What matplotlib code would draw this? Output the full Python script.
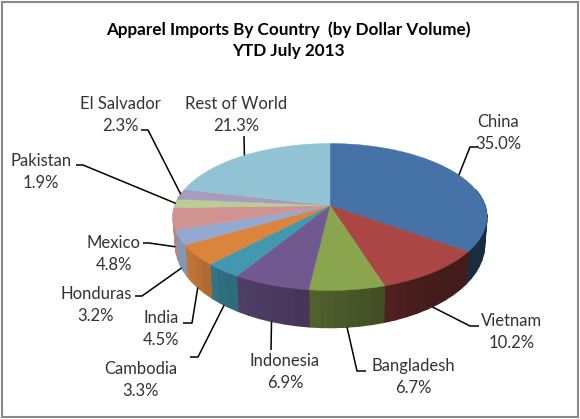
import numpy as np
import matplotlib
matplotlib.use("Agg")
import matplotlib.pyplot as plt
from matplotlib.collections import PolyCollection
from matplotlib.patches import Rectangle
from matplotlib.transforms import Transform

# ---- data
countries = ["China", "Vietnam", "Bangladesh", "Indonesia", "Cambodia", "India",
             "Honduras", "Mexico", "Pakistan", "El Salvador", "Rest of World"]
shares = [35.0, 10.2, 6.7, 6.9, 3.3, 4.5, 3.2, 4.8, 1.9, 2.3, 21.3]
title_lines = ["Apparel Imports By Country  (by Dollar Volume)", "YTD July 2013"]

# ---- style
colors = ["#4572A7", "#AA4643", "#89A54E", "#71588F", "#4198AF", "#DB843D",
          "#93A9CF", "#D19392", "#B9CD96", "#A99BBD", "#92C3D4"]
CX, CY, SX, SY, K = 330.0, 205.5, 155.0, 71.7, 0.156
DEPTH = 26.5
FONT = "Lato"

# label centre and elbow of the leader line (pixels), by country
label_xy = {"China": (498, 133), "Vietnam": (512, 332), "Bangladesh": (413, 377),
            "Indonesia": (285, 372), "Cambodia": (141, 380), "India": (161, 329),
            "Honduras": (96, 305), "Mexico": (114, 254), "Pakistan": (41, 172),
            "El Salvador": (120, 115), "Rest of World": (236, 115)}
elbows = {"China": [(478, 147), (470, 147)], "Vietnam": [(479, 326), (470, 326)],
          "Bangladesh": [(366, 371), (357, 371)], "Indonesia": [(271, 350)],
          "Cambodia": [(190, 357), (198, 357)], "India": [(183, 323), (192, 323)],
          "Honduras": [(135, 296), (142, 296)], "Mexico": [(143, 243), (149, 243)],
          "Pakistan": [(76, 165), (83, 165)], "El Salvador": [(141, 130), (148, 130)],
          "Rest of World": [(244, 136)]}


class Tilt(Transform):
    """Perspective view of the unit-circle pie, mapped to pixel coordinates."""
    input_dims = output_dims = 2

    def transform_non_affine(self, v):
        v = np.asarray(v, float)
        w = 1 + K * v[:, 1]
        return np.column_stack([CX + SX * v[:, 0] / w, CY - SY * v[:, 1] / w])


def rim(theta, lower=False):
    x, y = np.cos(np.radians(theta)), np.sin(np.radians(theta))
    w = 1 + K * y
    if lower:
        return CX + 0.985 * SX * x / w, CY - SY * y / w + DEPTH / w**2
    return CX + SX * x / w, CY - SY * y / w


fig = plt.figure(figsize=(5.8, 4.19), dpi=100, facecolor="white")
ax = fig.add_axes([0, 0, 1, 1])

wedges, _ = ax.pie(shares, colors=colors, startangle=90, counterclock=False)
tilt = Tilt()
for w, c in zip(wedges, colors):
    w.set_transform(tilt + ax.transData)
    w.set_edgecolor(c)
    w.set_linewidth(0.3)
    w.set_zorder(2)
ax.set_aspect("auto")
ax.set_xlim(0, 580)
ax.set_ylim(419, 0)
ax.axis("off")

# side wall
polys, fcs = [], []
for w, c in zip(wedges, colors):
    base = np.array(matplotlib.colors.to_rgb(c))
    n = max(3, int((w.theta2 - w.theta1) / 4))
    t = np.linspace(w.theta1, w.theta2, n + 1)
    for a, b in zip(t[:-1], t[1:]):
        m = (a + b) / 2
        if np.sin(np.radians(m)) > 0.2:
            continue
        polys.append([rim(a), rim(b), rim(b, True), rim(a, True)])
        f = np.interp(np.cos(np.radians(m)), [-1, -0.8, -0.6, -0.3, 0, 0.5, 1],
                      [0.9, 0.87, 0.72, 0.66, 0.56, 0.41, 0.38])
        fcs.append(base * f)
ax.add_collection(PolyCollection(polys, facecolors=fcs, edgecolors=fcs, linewidths=0.9, zorder=1))

# labels + leaders
for name, share, w in zip(countries, shares, wedges):
    mid = (w.theta1 + w.theta2) / 2
    end = rim(mid, np.sin(np.radians(mid)) < 0)
    pts = elbows[name] + [end]
    ax.plot(*zip(*pts), color="black", lw=1.1, zorder=3, solid_capstyle="butt")
    lx, ly = label_xy[name]
    ax.text(lx, ly, f"{name}\n{share:.1f}%", ha="center", va="center", fontsize=12,
            family=FONT, color="#333333", linespacing=1.4)

ax.text(288, 30, title_lines[0], ha="center", va="center", fontsize=12.3, fontweight="bold",
        family=FONT, color="black")
ax.text(288, 51, title_lines[1], ha="center", va="center", fontsize=12.3, fontweight="bold",
        family=FONT, color="black")

ax.add_patch(Rectangle((2, 2), 576, 414.5, fill=False, edgecolor="#8a8a8a", lw=1.5, zorder=5))

fig.savefig("out.png", dpi=100)
